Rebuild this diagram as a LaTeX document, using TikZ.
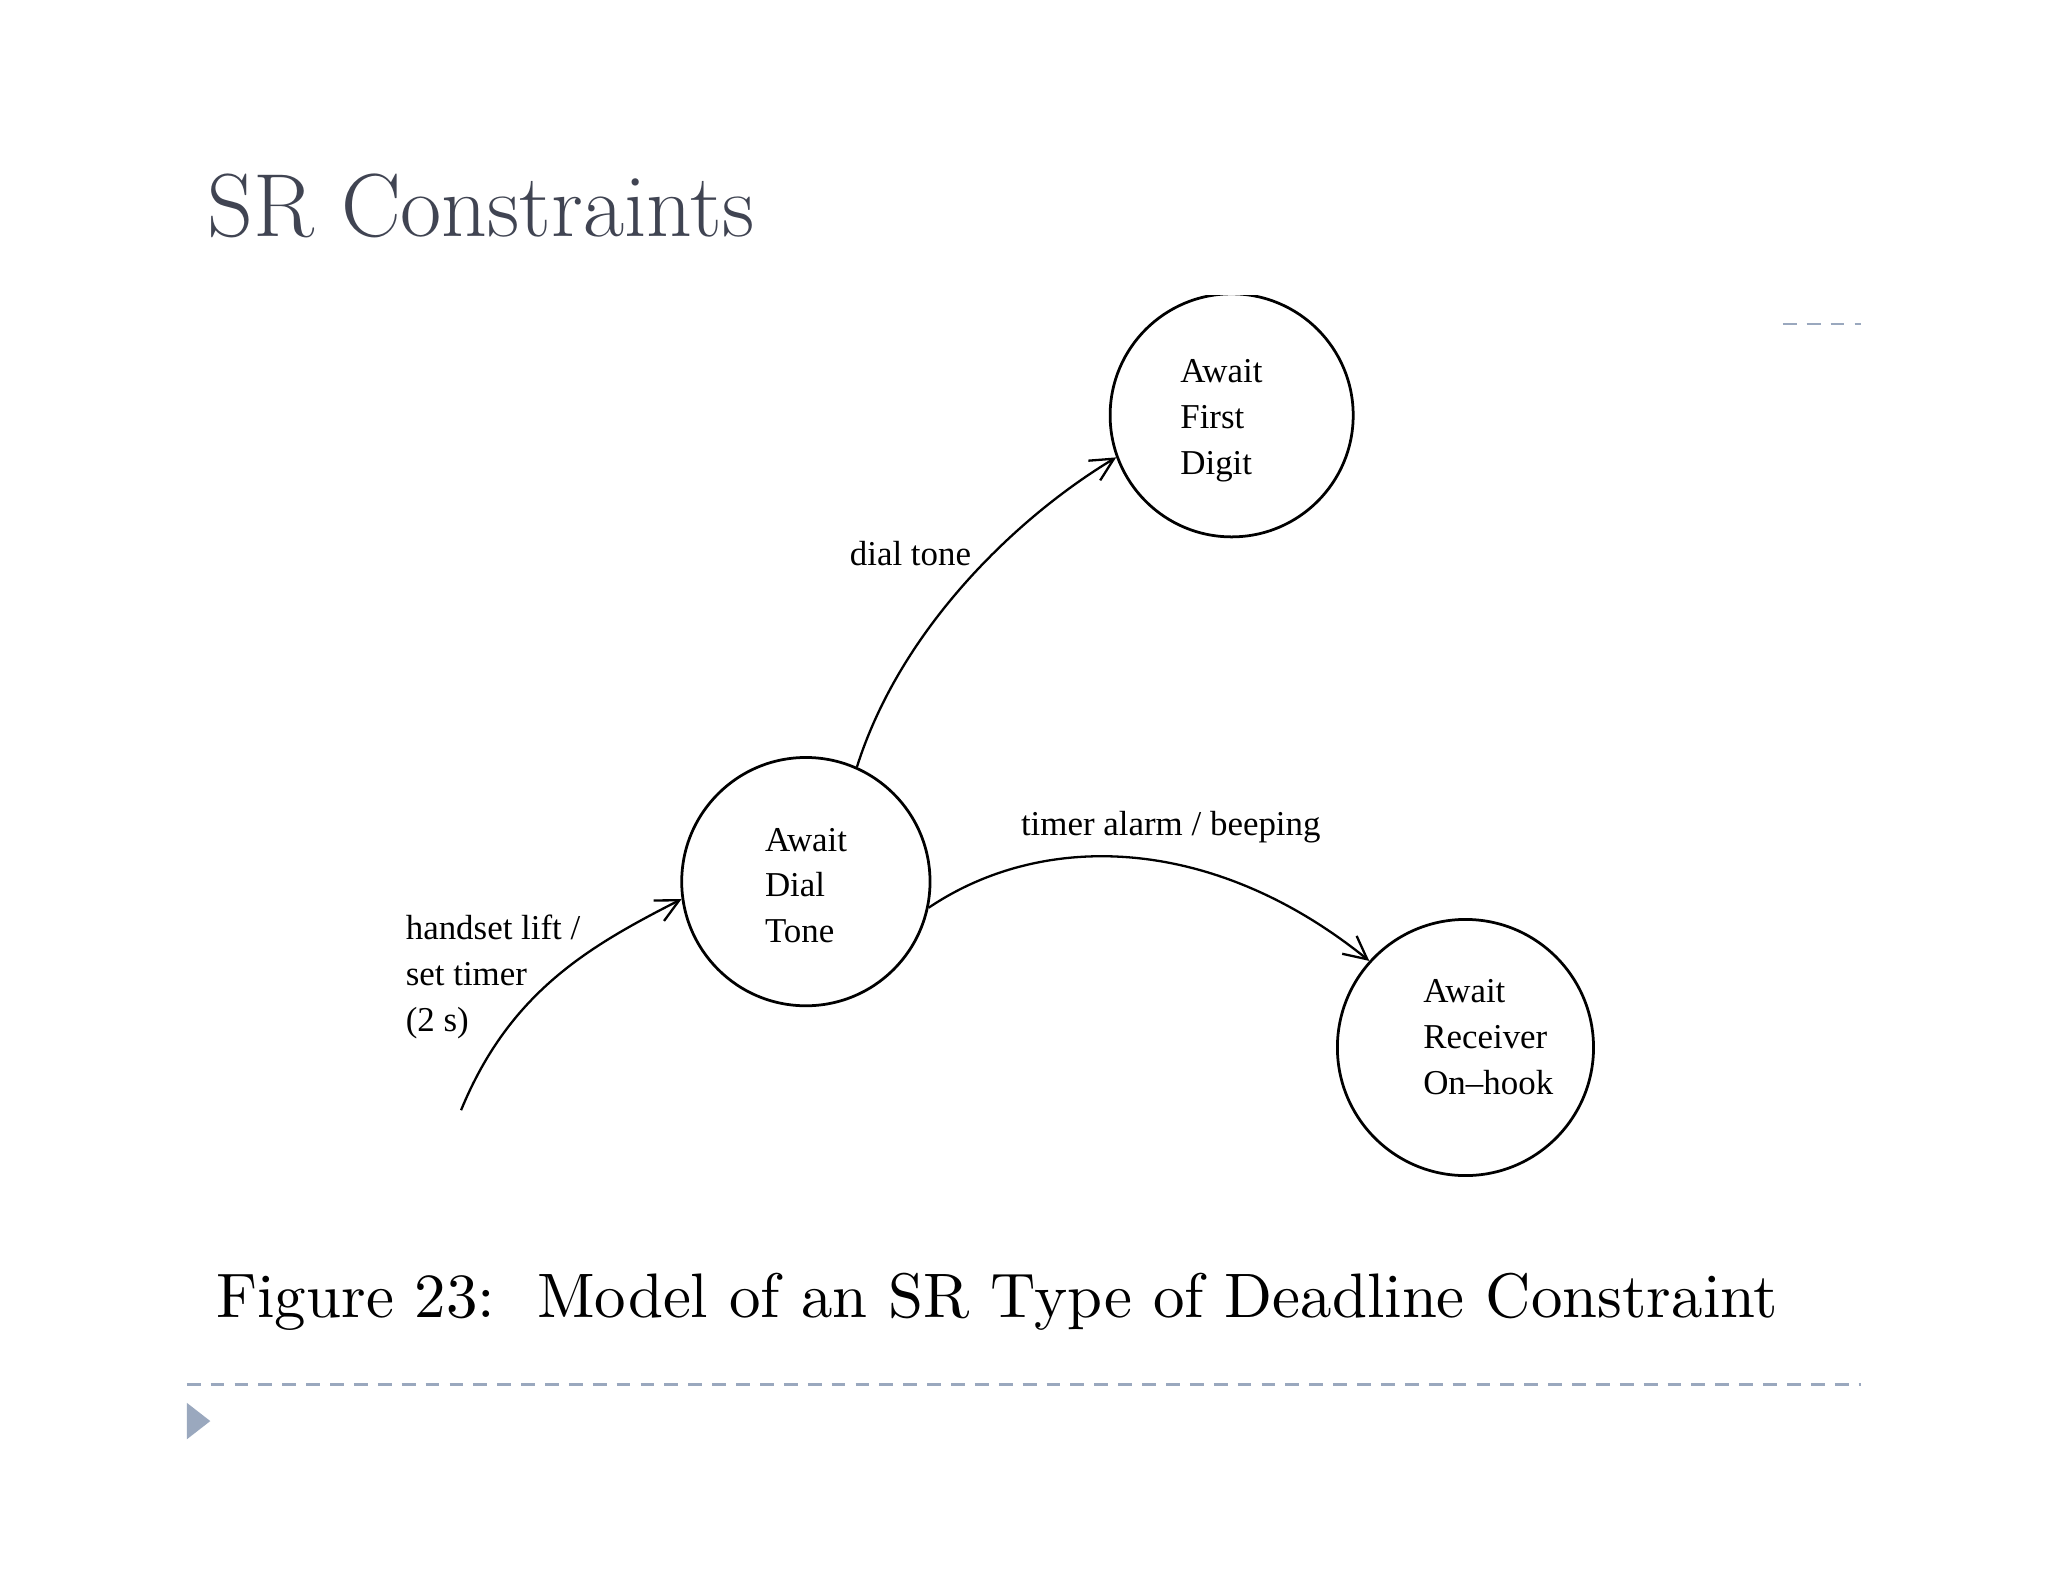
\documentclass[tikz,border=0pt]{standalone}
\usepackage{fontspec}
\newfontfamily\figfont[Ligatures=TeX]{Liberation Serif}
\usetikzlibrary{arrows.meta}
\definecolor{titlegray}{HTML}{404452}
\definecolor{dashblue}{HTML}{9AA8BE}
\tikzset{
  state/.style={circle,draw,line width=0.6pt,minimum size=#1,inner sep=0pt},
  lbl/.style={font=\figfont\fontsize{7.6}{10}\selectfont,align=left,inner sep=0pt,anchor=west},
  trans/.style={line width=0.5pt,-{Straight Barb[length=5pt,width=5pt]}},
  rule/.style={dashblue,line width=0.6pt,dash pattern=on 3pt off 2.2pt}
}
\begin{document}
\begin{tikzpicture}[x=0.01cm,y=-0.01cm]
\useasboundingbox[fill=white] (0,0) rectangle (1568,1212);
\node[anchor=base west,inner sep=0pt,text=titlegray,font=\fontsize{19.5}{24}\selectfont] (title) at (158,181) {SR Constraints};
\draw[rule] (1365,248) -- (1425,248);
\draw[rule] (143,1060) -- (1425,1060);
\fill[dashblue] (143,1074) -- (161,1088) -- (143,1102) -- cycle;
\begin{scope}
\clip (0,226) rectangle (1568,1212);
\node[state=1.86cm] (afd) at (943,318) {};
\end{scope}
\node[state=1.90cm] (adt) at (617,675) {};
\node[state=1.96cm] (aro) at (1122,802) {};
\node[lbl] (t1) at (903,322) {Await\\First\\Digit};
\node[lbl] (t2) at (585,678) {Await\\Dial\\Tone};
\node[lbl] (t3) at (1089,794) {Await\\Receiver\\On--hook};
\coordinate (start) at (353,850);
\draw[trans] (start) .. controls (390,760) and (450,725) .. (adt.188);
\draw[trans] (adt.66) .. controls (690,480) and (780,395) .. (afd.200);
\draw[trans] (adt.-12) .. controls (800,635) and (930,640) .. (aro.138);
\node[lbl] (l1) at (310,748) {handset lift /\\set timer\\(2 s)};
\node[lbl] (l2) at (650,424) {dial tone};
\node[lbl] (l3) at (781,633) {timer alarm / beeping};
\node[anchor=west,inner sep=0pt] (cap) at (165,997) {\resizebox{11.95cm}{!}{Figure 23:\ \ Model of an SR Type of Deadline Constraint}};
\end{tikzpicture}
\end{document}
